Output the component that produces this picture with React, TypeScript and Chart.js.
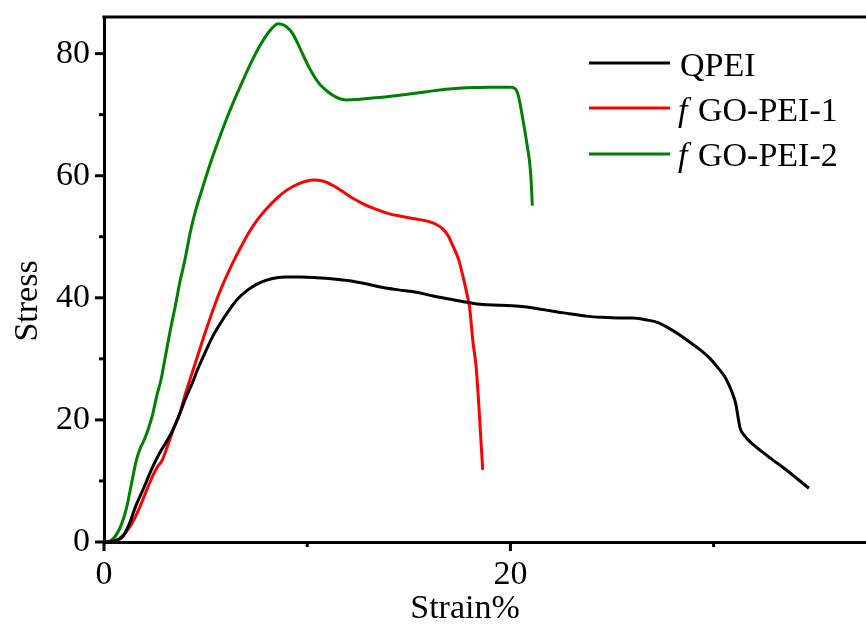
import { useEffect, useRef } from 'react';
import { Chart, registerables } from 'chart.js';

Chart.register(...registerables);

// ---- Data ----
const qpeiStrain = [0, 0.3, 0.6, 0.93, 1.25, 1.6, 1.95, 2.3, 2.6, 2.83, 3.05, 3.32, 3.73, 4.0, 4.39, 4.55, 5.0, 5.37, 5.8, 6.2, 6.6, 7.0, 7.5, 8.0, 8.5, 8.98, 9.7, 10.45, 11.3, 12.09, 12.9, 13.72, 14.5, 15.37, 16.2, 17.0, 17.98, 18.64, 19.46, 20.44, 21.2, 22.08, 22.9, 23.72, 24.5, 25.36, 26.0, 26.67, 27.3, 27.81, 28.3, 28.8, 29.3, 29.78, 30.2, 30.6, 30.9, 31.1, 31.2, 31.28, 31.33, 31.5, 31.74, 32.3, 32.89, 33.5, 34.1, 34.69];
const qpeiStress = [0, 0, 0.3, 0.9, 3.0, 6.2, 8.8, 11.6, 13.7, 15.1, 16.3, 17.9, 21.0, 23.4, 26.4, 27.8, 31.2, 33.8, 36.2, 38.2, 39.9, 41.1, 42.2, 42.9, 43.3, 43.4, 43.4, 43.3, 43.1, 42.8, 42.3, 41.7, 41.3, 40.9, 40.3, 39.8, 39.2, 38.9, 38.8, 38.6, 38.3, 37.8, 37.4, 37.0, 36.8, 36.7, 36.7, 36.4, 35.9, 35.0, 34.0, 32.8, 31.6, 30.2, 28.6, 26.8, 24.6, 22.5, 20.5, 19.0, 18.4, 17.5, 16.6, 15.0, 13.5, 12.0, 10.4, 8.8];

const go1Strain = [0, 0.3, 0.54, 0.8, 1.11, 1.45, 1.77, 2.1, 2.42, 2.65, 2.85, 3.05, 3.24, 3.41, 3.73, 4.0, 4.23, 4.55, 4.9, 5.37, 5.85, 6.35, 6.75, 7.17, 7.6, 8.0, 8.5, 8.98, 9.6, 10.29, 10.8, 11.27, 11.75, 12.25, 12.8, 13.4, 14.0, 14.55, 15.2, 15.86, 16.3, 16.67, 16.95, 17.17, 17.45, 17.66, 17.85, 17.99, 18.15, 18.31, 18.48, 18.56, 18.64];
const go1Stress = [0, 0, 0.1, 0.7, 1.7, 3.5, 5.8, 8.5, 11.0, 12.4, 13.3, 15.0, 16.8, 18.4, 21.1, 24.2, 26.6, 29.9, 33.5, 38.1, 42.2, 45.8, 48.4, 50.9, 53.0, 54.6, 56.3, 57.6, 58.7, 59.3, 59.1, 58.4, 57.4, 56.3, 55.3, 54.5, 53.8, 53.4, 53.0, 52.6, 52.1, 51.3, 50.1, 48.5, 46.3, 43.6, 40.8, 38.5, 33.0, 28.8, 20.6, 16.0, 11.8];

const go2Strain = [0, 0.3, 0.55, 0.85, 1.11, 1.35, 1.6, 1.8, 1.95, 2.18, 2.4, 2.6, 2.8, 3.0, 3.24, 3.5, 3.73, 4.0, 4.23, 4.5, 4.8, 5.21, 5.6, 6.03, 6.45, 6.85, 7.25, 7.67, 8.1, 8.4, 8.57, 8.95, 9.3, 9.6, 9.96, 10.3, 10.61, 11.0, 11.4, 11.93, 12.5, 13.5, 14.55, 15.5, 16.18, 17.0, 17.82, 19.0, 20.0, 20.25, 20.4, 20.6, 20.8, 21.0, 21.08];
const go2Stress = [0, 0.2, 0.9, 2.8, 5.6, 9.5, 13.5, 15.5, 16.5, 18.5, 21.0, 24.0, 26.5, 30.0, 34.3, 38.5, 42.5, 46.5, 50.5, 54.2, 57.5, 61.8, 65.5, 69.3, 72.7, 75.7, 78.6, 81.3, 83.5, 84.6, 84.9, 84.5, 83.2, 81.2, 78.6, 76.5, 75.0, 73.8, 72.9, 72.4, 72.5, 72.8, 73.2, 73.6, 73.9, 74.2, 74.4, 74.5, 74.5, 74.2, 73.0, 69.5, 65.5, 60.3, 55.1];

const seriesNames = ['QPEI', 'GO-PEI-1', 'GO-PEI-2'];
const seriesPrefix = ['', 'f', 'f'];
const seriesColors = ['#000000', '#ff0000', '#008000'];

const xTickValues = [0, 10, 20, 30];
const xTickLabels = ['0', '', '20', ''];
const yTickValues = [0, 10, 20, 30, 40, 50, 60, 70, 80];
const yTickLabels = ['0', '', '20', '', '40', '', '60', '', '80'];

const xTitle = 'Strain%';
const yTitle = 'Stress';

const FONT_FAMILY = '"Liberation Serif", "Times New Roman", serif';
const FONT_SIZE = 34;

function toPoints(xs: number[], ys: number[]) {
  return xs.map((x, i) => ({ x, y: ys[i] }));
}

const decorPlugin = {
  id: 'decor',
  afterDraw(chart: any) {
    const ctx = chart.ctx as CanvasRenderingContext2D;
    const { left, right, top, bottom } = chart.chartArea;
    const xs = chart.scales.x;
    const ys = chart.scales.y;
    ctx.save();
    ctx.strokeStyle = '#000';
    ctx.lineWidth = 3;
    ctx.lineCap = 'butt';
    // top border
    ctx.beginPath();
    ctx.moveTo(left - 1.5, top);
    ctx.lineTo(right, top);
    ctx.stroke();
    // y ticks (outward)
    yTickValues.forEach((v, i) => {
      const p = ys.getPixelForValue(v);
      const len = yTickLabels[i] !== '' ? 9 : 5;
      ctx.beginPath();
      ctx.moveTo(left - len, p);
      ctx.lineTo(left, p);
      ctx.stroke();
    });
    // x ticks (outward)
    xTickValues.forEach((v, i) => {
      const p = xs.getPixelForValue(v);
      const len = xTickLabels[i] !== '' ? 9 : 5;
      ctx.beginPath();
      ctx.moveTo(p, bottom);
      ctx.lineTo(p, bottom + len);
      ctx.stroke();
    });
    // axis titles
    ctx.fillStyle = '#000';
    ctx.font = `${FONT_SIZE}px ${FONT_FAMILY}`;
    ctx.textAlign = 'center';
    ctx.textBaseline = 'alphabetic';
    ctx.fillText(xTitle, 465, 618);
    ctx.save();
    ctx.translate(37, 301);
    ctx.rotate(-Math.PI / 2);
    ctx.fillText(yTitle, 0, 0);
    ctx.restore();
    // legend
    const lineY = [63, 108, 154];
    const textY = [76, 121, 166];
    seriesNames.forEach((name, i) => {
      ctx.strokeStyle = seriesColors[i];
      ctx.lineWidth = 3;
      ctx.beginPath();
      ctx.moveTo(589, lineY[i]);
      ctx.lineTo(670, lineY[i]);
      ctx.stroke();
      ctx.textAlign = 'left';
      if (seriesPrefix[i]) {
        ctx.font = `italic ${FONT_SIZE}px ${FONT_FAMILY}`;
        ctx.fillText(seriesPrefix[i], 678, textY[i]);
        ctx.font = `${FONT_SIZE}px ${FONT_FAMILY}`;
        ctx.fillText(name, 698, textY[i]);
      } else {
        ctx.font = `${FONT_SIZE}px ${FONT_FAMILY}`;
        ctx.fillText(name, 680, textY[i]);
      }
    });
    ctx.restore();
  },
};

export default function App() {
  const ref = useRef<HTMLCanvasElement | null>(null);
  useEffect(() => {
    if (!ref.current) return;
    const datasets = [
      toPoints(qpeiStrain, qpeiStress),
      toPoints(go1Strain, go1Stress),
      toPoints(go2Strain, go2Stress),
    ].map((data, i) => ({
      label: (seriesPrefix[i] ? seriesPrefix[i] + ' ' : '') + seriesNames[i],
      data,
      borderColor: seriesColors[i],
      backgroundColor: seriesColors[i],
      borderWidth: 3,
      pointRadius: 0,
      cubicInterpolationMode: 'monotone' as const,
      fill: false,
    }));
    const chart = new Chart(ref.current, {
      type: 'line',
      data: { datasets },
      plugins: [decorPlugin],
      options: {
        animation: false,
        responsive: false,
        devicePixelRatio: 1,
        layout: { padding: { top: 17, right: 0, left: 0, bottom: 0 } },
        plugins: { legend: { display: false }, tooltip: { enabled: false } },
        scales: {
          x: {
            type: 'linear',
            min: 0,
            max: 37.5,
            afterFit: (s: any) => {
              s.height = 84;
              s.paddingLeft = 0;
              s.paddingRight = 0;
            },
            border: { display: true, color: '#000', width: 3 },
            grid: { drawOnChartArea: false, drawTicks: true, tickLength: 9, color: 'rgba(0,0,0,0)' },
            ticks: {
              stepSize: 10,
              includeBounds: false,
              padding: 4,
              color: '#000',
              font: { family: FONT_FAMILY, size: FONT_SIZE },
              maxRotation: 0,
              autoSkip: false,
              callback: (v: any) => {
                const i = xTickValues.indexOf(Number(v));
                return i >= 0 ? xTickLabels[i] : '';
              },
            },
          },
          y: {
            type: 'linear',
            min: 0,
            max: 86,
            afterFit: (s: any) => {
              s.width = 104;
              s.paddingTop = 0;
              s.paddingBottom = 0;
            },
            border: { display: true, color: '#000', width: 3 },
            grid: { drawOnChartArea: false, drawTicks: true, tickLength: 9, color: 'rgba(0,0,0,0)' },
            ticks: {
              stepSize: 10,
              includeBounds: false,
              padding: 5,
              color: '#000',
              font: { family: FONT_FAMILY, size: FONT_SIZE },
              autoSkip: false,
              callback: (v: any) => {
                const i = yTickValues.indexOf(Number(v));
                return i >= 0 ? yTickLabels[i] : '';
              },
            },
          },
        },
      },
    });
    return () => chart.destroy();
  }, []);
  return (
    <div style={{ position: 'absolute', left: 0, top: 0, width: 866, height: 626, background: '#fff' }}>
      <canvas ref={ref} width={866} height={626} />
    </div>
  );
}
